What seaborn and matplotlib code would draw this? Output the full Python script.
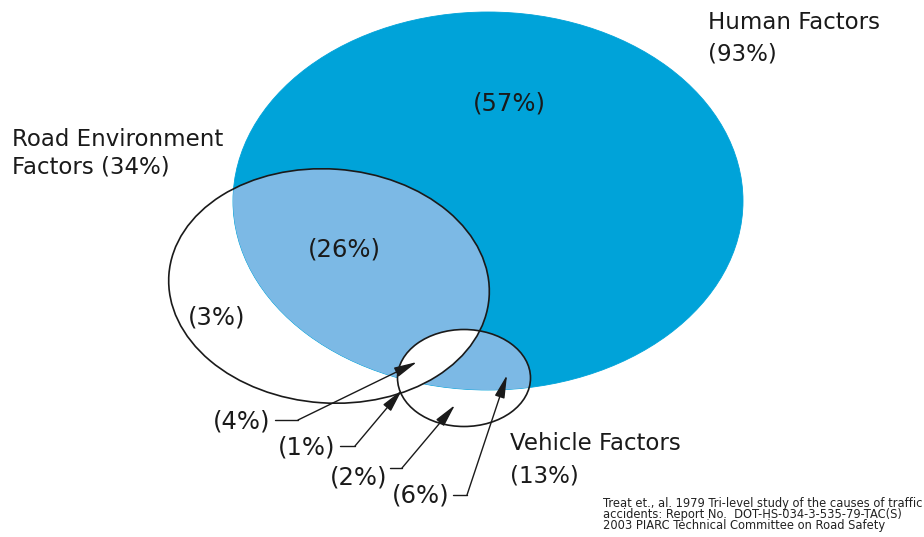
# venn of crash causes (Treat et al. 1979 tri-level study)
# three overlapping ellipses, regions coloured by how many sets cover them

import matplotlib
matplotlib.use('Agg')
import matplotlib.pyplot as plt
from matplotlib.patches import Ellipse
import seaborn as sns

sns.set_theme(style='white')
plt.rcParams['font.family'] = ['DejaVu Sans']

# --- data -------------------------------------------------
set_names = ['Human Factors', 'Road Environment\nFactors', 'Vehicle Factors']
set_totals = [93, 34, 13]

# regions: H only, H+R, R only, H+R+V, R+V, V only, H+V
region_keys = ['H', 'HR', 'R', 'HRV', 'RV', 'V', 'HV']
region_pcts = [57, 26, 3, 4, 1, 2, 6]

source_lines = ['Treat et., al. 1979 Tri-level study of the causes of traffic',
                'accidents: Report No.  DOT-HS-034-3-535-79-TAC(S)',
                '2003 PIARC Technical Committee on Road Safety']

# --- layout (pixel space, y down) --------------------------
W, H = 924, 537
DARK = '#00a3d9'
LIGHT = '#7cb9e5'

ell = {  # centre, width, height, angle
    'H': ((488, 201), 510, 378, 0),
    'R': ((329, 286), 321, 234, 4),
    'V': ((464, 378), 133, 97, 0),
}

# label spots for regions in the middle of a set
inside_pos = {'H': (509, 103), 'HR': (344, 250), 'R': (217, 318)}
# regions that need a leader: label centre, elbow start, elbow end, arrow tip
leader = {
    'HRV': ((242, 422), (275, 420), (298, 420), (417, 362)),
    'RV':  ((307, 447), (340, 446), (355, 446), (402, 390)),
    'V':   ((359, 477), (390, 468), (402, 468), (455, 405)),
    'HV':  ((421, 495), (453, 495), (467, 495), (507, 375)),
}
name_pos = [(708, 38.5, 1.45), (12, 153.5, 1.27), (510, 460, 1.5)]

fig = plt.figure(figsize=(W / 100, H / 100), dpi=100)
ax = fig.add_axes([0, 0, 1, 1])
ax.set_xlim(0, W)
ax.set_ylim(H, 0)
ax.set_axis_off()


def mk(key, **kw):
    (cx, cy), w, h, a = ell[key]
    p = Ellipse((cx, cy), w, h, angle=a, **kw)
    ax.add_patch(p)
    return p


human = mk('H', fc=DARK, ec=DARK, lw=0.6, zorder=1)
road_edge = mk('R', fc='none', ec='#1a1a1a', lw=1.2, zorder=5)
veh_edge = mk('V', fc='none', ec='#1a1a1a', lw=1.2, zorder=5)

# human ∩ road and human ∩ vehicle -> light blue
rf = mk('R', fc=LIGHT, ec='none', zorder=2)
rf.set_clip_path(human)
vf = mk('V', fc=LIGHT, ec='none', zorder=3)
vf.set_clip_path(human)
# triple overlap comes out white in the original
tf = mk('V', fc='white', ec='none', zorder=4)
tf.set_clip_path(road_edge)

pct = dict(zip(region_keys, region_pcts))
for k, (x, y) in inside_pos.items():
    ax.text(x, y, f'({pct[k]}%)', ha='center', va='center',
            fontsize=17.5, color='#1a1a1a', zorder=7)

for k, (lab, p0, p1, tip) in leader.items():
    ax.text(lab[0], lab[1], f'({pct[k]}%)', ha='center', va='center',
            fontsize=17.5, color='#1a1a1a', zorder=7)
    ax.plot([p0[0], p1[0]], [p0[1], p1[1]], color='#1a1a1a', lw=1.0, zorder=6)
    ax.annotate('', xy=tip, xytext=p1,
                arrowprops=dict(arrowstyle='-|>,head_length=1.0,head_width=0.22',
                                color='#1a1a1a', lw=1.0, mutation_scale=14,
                                shrinkA=0, shrinkB=0),
                zorder=6)

for name, tot, (x, y, ls) in zip(set_names, set_totals, name_pos):
    if '\n' in name:
        txt = f'{name} ({tot}%)'
    else:
        txt = f'{name}\n({tot}%)'
    ax.text(x, y, txt, ha='left', va='center', fontsize=16.5,
            linespacing=ls, color='#1a1a1a', zorder=7)

for i, line in enumerate(source_lines):
    ax.text(603, 503 + i * 11.5, line, ha='left', va='center',
            fontsize=8.3, color='#222222')

fig.savefig('out.png', dpi=100)
plt.close(fig)
